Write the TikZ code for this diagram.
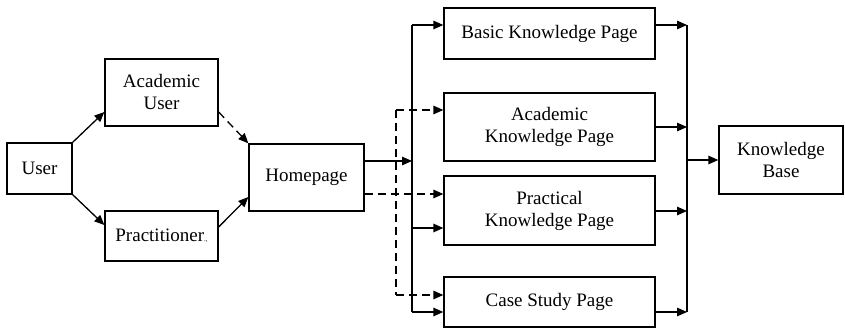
\documentclass[tikz,border=0pt]{standalone}
\usepackage{fontspec}
\setmainfont{Liberation Serif}
\usetikzlibrary{arrows.meta}
\begin{document}
\begin{tikzpicture}[x=1pt,y=-1pt,
  box/.style={draw,line width=1.3pt,align=center,inner sep=0pt,font=\fontsize{19}{22}\selectfont},
  arr/.style={line width=1.3pt,-{Triangle[length=10pt,width=8.5pt]}},
  dsh/.style={line width=1.3pt,dash pattern=on 8pt off 5pt},
  ln/.style={line width=1.3pt}]
\useasboundingbox (0,0) rectangle (845,328);
\node[box,minimum width=65pt,minimum height=51pt] (user) at (39.5,168.5) {User};
\node[box,minimum width=113pt,minimum height=67pt] (acad) at (161.5,92.5) {Academic\\User};
\node[box,minimum width=113pt,minimum height=50pt] (prac) at (161.5,236) {Practitioner{\scriptsize.,}};
\node[box,minimum width=115pt,minimum height=67pt] (home) at (306.5,177.5) {Homepage};
\node[box,minimum width=211pt,minimum height=51pt] (basic) at (549.5,33.5) {Basic Knowledge Page};
\node[box,minimum width=211pt,minimum height=68pt] (akp) at (549.5,127) {Academic\\Knowledge Page};
\node[box,minimum width=211pt,minimum height=69pt] (pkp) at (549.5,210.5) {Practical\\Knowledge Page};
\node[box,minimum width=211pt,minimum height=50pt] (case) at (549.5,302) {Case Study Page};
\node[box,minimum width=124pt,minimum height=68pt] (kb) at (781,160) {Knowledge\\Base};
% buses
\coordinate (b1t) at (412,25);
\coordinate (b1b) at (412,312);
\coordinate (b2t) at (396,110);
\coordinate (b2b) at (396,295);
\coordinate (b3t) at (687,25);
\coordinate (b3b) at (687,312);
% left part
\draw[arr] (user.north east) -- (acad.west |- 0,112);
\draw[arr] (user.south east) -- (prac.west |- 0,225);
\draw[arr,dsh] (acad.east |- 0,112) -- (home.north west);
\draw[arr] (prac.east |- 0,227) -- (home.west |- 0,197);
% homepage outputs
\draw[arr] (home.east |- 0,161) -- (b1t |- 0,161);
\draw[arr,dsh] (home.east |- 0,194) -- (pkp.west |- 0,194);
% solid bus
\draw[ln] (b1t) -- (b1b);
\draw[arr] (b1t) -- (basic.west |- b1t);
\draw[arr] (b1t |- 0,228) -- (pkp.west |- 0,228);
\draw[arr] (b1b) -- (case.west |- b1b);
% dashed bus
\draw[dsh] (b2t) -- (b2b);
\draw[arr,dsh] (b2t) -- (akp.west |- b2t);
\draw[arr,dsh] (b2b) -- (case.west |- b2b);
% right bus
\draw[ln] (b3t) -- (b3b);
\draw[arr] (basic.east |- b3t) -- (b3t);
\draw[arr] (akp.east |- 0,127) -- (b3t |- 0,127);
\draw[arr] (pkp.east |- 0,211) -- (b3t |- 0,211);
\draw[arr] (case.east |- b3b) -- (b3b);
\draw[arr] (b3t |- kb.west) -- (kb.west);
\end{tikzpicture}
\end{document}
